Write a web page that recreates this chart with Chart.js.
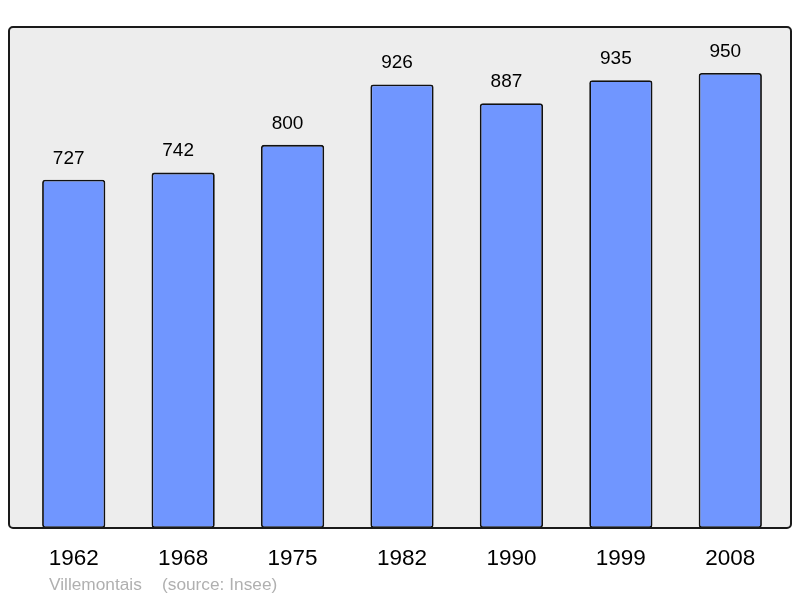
<!DOCTYPE html>
<html>
<head>
<meta charset="utf-8">
<script src="https://cdn.jsdelivr.net/npm/chart.js@4/dist/chart.umd.min.js"></script>
<style>
html,body{margin:0;padding:0;background:#fff;}
#wrap{width:800px;height:598px;}
</style>
</head>
<body>
<div id="wrap"><canvas id="c" width="800" height="598"></canvas></div>
<script>
const years = ['1962','1968','1975','1982','1990','1999','2008'];
const population = [727, 742, 800, 926, 887, 935, 950];
const placeName = 'Villemontais';
const sourceText = '(source: Insee)';

const FONT = '"Liberation Sans", Arial, sans-serif';

const boxPlugin = {
  id: 'box',
  beforeDraw(chart) {
    const ctx = chart.ctx;
    ctx.save();
    ctx.beginPath();
    ctx.roundRect(9, 27, 782, 501, 4);
    ctx.fillStyle = '#ededed';
    ctx.fill();
    ctx.restore();
  },
  afterDatasetsDraw(chart) {
    const ctx = chart.ctx;
    ctx.save();
    ctx.beginPath();
    ctx.roundRect(9, 27, 782, 501, 4);
    ctx.lineWidth = 2;
    ctx.strokeStyle = '#1a1a1a';
    ctx.stroke();
    // value labels
    const meta = chart.getDatasetMeta(0);
    ctx.fillStyle = '#000';
    ctx.font = '19px ' + FONT;
    ctx.textAlign = 'center';
    ctx.textBaseline = 'middle';
    meta.data.forEach((bar, i) => {
      ctx.fillText(String(population[i]), bar.x - 5, bar.y - 21.5);
    });
    // footer
    ctx.fillStyle = '#b0b0b0';
    ctx.font = '17.3px ' + FONT;
    ctx.textAlign = 'left';
    ctx.fillText(placeName, 49, 585);
    ctx.fillText(sourceText, 162, 585);
    ctx.restore();
  }
};

new Chart(document.getElementById('c'), {
  type: 'bar',
  data: {
    labels: years,
    datasets: [{
      data: population,
      backgroundColor: '#7096ff',
      borderColor: '#111',
      borderWidth: 1.8,
      borderRadius: 3,
      borderSkipped: false,
      barPercentage: 0.578,
      categoryPercentage: 1
    }]
  },
  options: {
    responsive: false,
    animation: false,
    devicePixelRatio: 1,
    layout: { padding: { left: 19, right: 15, top: 27, bottom: 0 } },
    plugins: { legend: { display: false }, tooltip: { enabled: false }, title: { display: false } },
    scales: {
      x: {
        grid: { display: false },
        border: { display: false },
        ticks: { color: '#000', font: { family: FONT, size: 22.5 }, padding: 9, maxRotation: 0 },
        afterFit(scale) { scale.height = 70; }
      },
      y: {
        display: false,
        min: 0,
        max: 1046
      }
    }
  },
  plugins: [boxPlugin]
});
</script>
</body>
</html>
